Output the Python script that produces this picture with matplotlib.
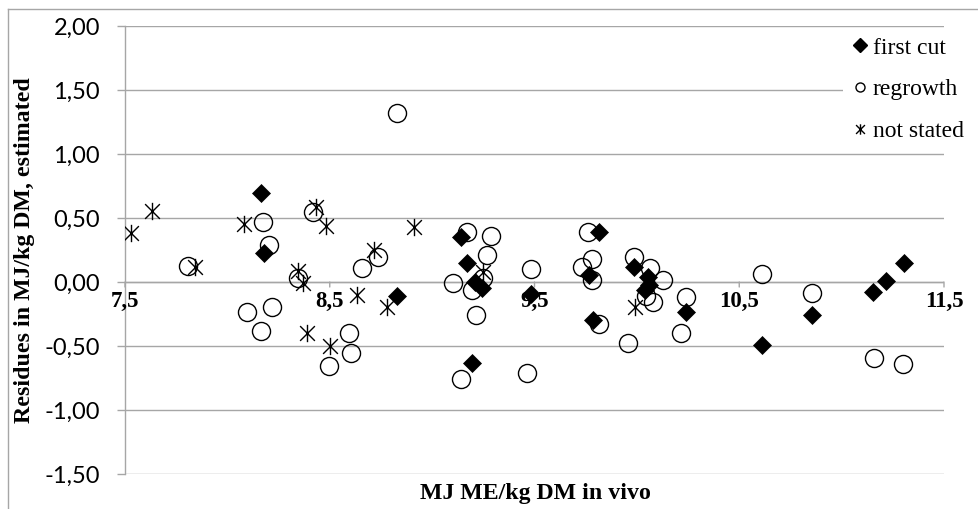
import matplotlib
matplotlib.use("Agg")
import matplotlib.pyplot as plt
from matplotlib.lines import Line2D
from matplotlib.path import Path
from matplotlib.ticker import FuncFormatter


# =========================================================
# Data
# =========================================================
FIRST_CUT_X = [8.164, 8.177, 8.827, 9.140, 9.172, 9.209, 9.242, 9.196, 9.481,
               9.815, 9.766, 9.784, 9.986, 10.056, 10.061, 10.040, 10.238,
               10.610, 10.854, 11.155, 11.215, 11.305]
FIRST_CUT_Y = [0.693, 0.224, -0.109, 0.354, 0.151, 0.003, -0.050, -0.630, -0.094,
               0.388, 0.055, -0.297, 0.120, 0.036, -0.023, -0.063, -0.232,
               -0.490, -0.258, -0.076, 0.010, 0.146]

REGROWTH_X = [7.809, 8.175, 8.205, 8.346, 8.094, 8.218, 8.164, 8.420, 8.737,
              8.657, 8.596, 8.602, 8.498, 8.827, 9.172, 9.286, 9.270, 9.250,
              9.100, 9.193, 9.214, 9.141, 9.481, 9.462, 9.763, 9.779, 9.730,
              9.782, 9.815, 9.986, 10.064, 10.129, 10.045, 10.080, 9.955,
              10.238, 10.215, 10.613, 10.854, 11.158, 11.301]
REGROWTH_Y = [0.125, 0.466, 0.289, 0.029, -0.232, -0.193, -0.380, 0.550, 0.193,
              0.107, -0.400, -0.552, -0.660, 1.318, 0.393, 0.360, 0.211, 0.029,
              -0.005, -0.063, -0.258, -0.760, 0.099, -0.708, 0.393, 0.177, 0.115,
              0.016, -0.328, 0.198, 0.107, 0.016, -0.110, -0.154, -0.479,
              -0.115, -0.400, 0.063, -0.089, -0.596, -0.640]

NOT_STATED_X = [7.528, 7.633, 7.842, 8.081, 8.343, 8.371, 8.390, 8.433, 8.482,
                8.911, 8.716, 8.631, 8.781, 8.501, 9.247, 9.991]
NOT_STATED_Y = [0.385, 0.555, 0.120, 0.453, 0.086, -0.010, -0.396, 0.588, 0.438,
                0.432, 0.250, -0.100, -0.193, -0.500, 0.080, -0.193]

X_TICKS = [7.5, 8.5, 9.5, 10.5, 11.5]
X_TICK_LABELS = ["7,5", "8,5", "9,5", "10,5", "11,5"]
Y_TICKS = [-1.5, -1.0, -0.5, 0.0, 0.5, 1.0, 1.5, 2.0]

SERIES_LABELS = ["first cut", "regrowth", "not stated"]
X_LABEL = "MJ ME/kg DM in vivo"
Y_LABEL = "Residues in MJ/kg DM, estimated"

# =========================================================
# Style
# =========================================================
W, H = 979, 509
GRID = "#a6a6a6"
SERIF = ["Liberation Serif", "DejaVu Serif"]
SANS = ["Lato", "DejaVu Sans"]

# asterisk: vertical bar plus an X
STAR = Path(
    [(0, -1), (0, 1), (-0.85, -0.85), (0.85, 0.85), (-0.85, 0.85), (0.85, -0.85)],
    [Path.MOVETO, Path.LINETO, Path.MOVETO, Path.LINETO, Path.MOVETO, Path.LINETO],
)

fig = plt.figure(figsize=(W / 100, H / 100), dpi=100)
ax = fig.add_axes([125 / W, 1 - 474 / H, (944 - 125) / W, (474 - 26) / H])

ax.set_xlim(7.5, 11.5)
ax.set_ylim(-1.5, 2.0)

ax.plot(REGROWTH_X, REGROWTH_Y, linestyle="none", marker="o", ms=13,
        mfc="none", mec="black", mew=1.0, zorder=3)
ax.plot(NOT_STATED_X, NOT_STATED_Y, linestyle="none", marker=STAR, ms=12.5,
        mec="black", mew=1.0, zorder=3)
ax.plot(FIRST_CUT_X, FIRST_CUT_Y, linestyle="none", marker="D", ms=9.2,
        mfc="black", mec="black", mew=0.5, zorder=4)

# axes
for side in ["top", "right", "bottom"]:
    ax.spines[side].set_visible(False)
ax.spines["left"].set_color(GRID)
ax.spines["left"].set_linewidth(1.0)
ax.axhline(0, color=GRID, lw=1.0, zorder=1)

ax.set_yticks(Y_TICKS)
ax.yaxis.set_major_formatter(FuncFormatter(lambda v, p: f"{v:.2f}".replace(".", ",")))
ax.tick_params(axis="y", direction="out", length=6, width=1.0, color=GRID,
               pad=12, labelsize=17)
for t in ax.get_yticklabels():
    t.set_family(SANS)

ax.grid(axis="y", color=GRID, lw=1.0, zorder=0)
ax.set_axisbelow(True)

# x tick marks and labels hang from the zero line
ax.set_xticks([])
for xv, lab in zip(X_TICKS, X_TICK_LABELS):
    ax.annotate("", xy=(xv, 0), xytext=(0, -5), textcoords="offset pixels",
                xycoords="data",
                arrowprops=dict(arrowstyle="-", color=GRID, lw=1.0, shrinkA=0, shrinkB=0),
                annotation_clip=False)
    ax.annotate(lab, xy=(xv, 0), xytext=(0, -9), textcoords="offset pixels",
                ha="center", va="top", fontsize=16.5, fontweight="bold",
                family=SERIF, annotation_clip=False)

fig.text(535 / W, 1 - 493 / H, X_LABEL, ha="center", va="center",
         fontsize=17.2, fontweight="bold", family=SERIF)
fig.text(25 / W, 1 - 250 / H, Y_LABEL, ha="center", va="center", rotation=90,
         fontsize=17.2, fontweight="bold", family=SERIF)

# legend
handles = [
    Line2D([], [], linestyle="none", marker="D", ms=7.5, mfc="black", mec="black"),
    Line2D([], [], linestyle="none", marker="o", ms=6.5, mfc="none", mec="black", mew=1.0),
    Line2D([], [], linestyle="none", marker=STAR, ms=7.5, mec="black", mew=1.0),
]
leg = ax.legend(handles, SERIES_LABELS, loc="upper left",
                bbox_to_anchor=(843 / W, 1 - 30 / H), bbox_transform=fig.transFigure,
                borderaxespad=0, borderpad=0.3, handlelength=0.8, handletextpad=0.15,
                labelspacing=0.85, frameon=True, fancybox=False,
                prop={"family": SERIF, "size": 17})
leg.get_frame().set_facecolor("white")
leg.get_frame().set_edgecolor("none")
leg.get_frame().set_alpha(1)
leg.set_zorder(5)

# chart border (left and top edges visible)
fig.add_artist(Line2D([8.5 / W, 8.5 / W], [0, 1 - 9 / H], color=GRID, lw=1.0))
fig.add_artist(Line2D([8.5 / W, 1], [1 - 9 / H, 1 - 9 / H], color=GRID, lw=1.0))

fig.savefig("out.png", dpi=100)
